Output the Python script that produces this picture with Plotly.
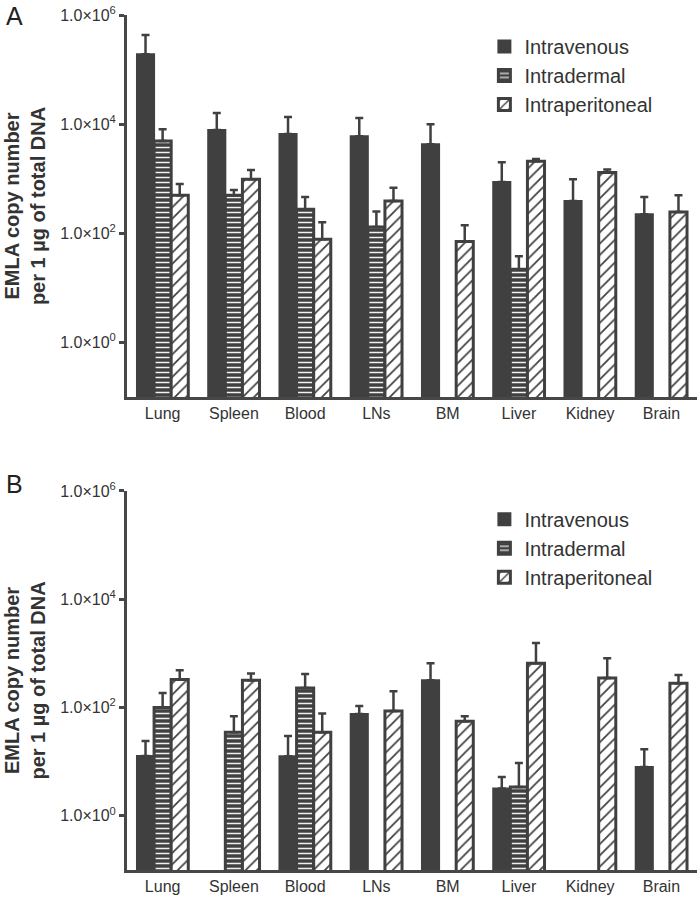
import plotly.graph_objects as go

categories = ["Lung", "Spleen", "Blood", "LNs", "BM", "Liver", "Kidney", "Brain"]
series_names = ["Intravenous", "Intradermal", "Intraperitoneal"]

# Panel A values (copy number per 1 µg DNA) and top of error bars
a_iv = [1.9e5, 7.8e3, 6.6e3, 6.0e3, 4.3e3, 870, 390, 224]
a_iv_err = [4.3e5, 1.6e4, 1.35e4, 1.3e4, 1.0e4, 2000, 980, 460]
a_id = [4.9e3, 500, 275, 130, None, 22, None, None]
a_id_err = [8100, 620, 460, 250, None, 38, None, None]
a_ip = [500, 980, 78, 390, 71, 2100, 1300, 245]
a_ip_err = [800, 1450, 160, 680, 140, 2300, 1480, 500]

# Panel B
b_iv = [12.7, None, 12.6, 76, 318, 3.2, None, 8]
b_iv_err = [24, None, 30, 107, 660, 5.2, None, 17]
b_id = [100, 35, 230, None, None, 3.4, None, None]
b_id_err = [186, 69, 417, None, None, 9.5, None, None]
b_ip = [330, 318, 35, 86, 56, 660, 350, 280]
b_ip_err = [490, 427, 78, 200, 69, 1550, 810, 400]

tick_vals = [1, 100, 1e4, 1e6]
tick_text = ["1.0×10<sup>0</sup>", "1.0×10<sup>2</sup>", "1.0×10<sup>4</sup>", "1.0×10<sup>6</sup>"]

DARK = "#404040"
AX = "#474747"
FONT = "Liberation Sans, Arial, sans-serif"


def plus(vals, tops):
    return [(t - v) if (v is not None and t is not None) else 0 for v, t in zip(vals, tops)]


def styles(i):
    if i == 0:
        return dict(color=DARK, line=dict(color=DARK, width=2))
    if i == 1:
        return dict(color=DARK, line=dict(color=DARK, width=3),
                    pattern=dict(shape="-", fgcolor="#f2f2f2", bgcolor=DARK,
                                 size=5, solidity=0.3, fillmode="replace"))
    return dict(color="white", line=dict(color=DARK, width=3),
                pattern=dict(shape="/", fgcolor=DARK, bgcolor="white",
                             size=8, solidity=0.22, fillmode="replace"))


fig = go.Figure()
panels = [
    ("x", "y", "legend", [(a_iv, a_iv_err), (a_id, a_id_err), (a_ip, a_ip_err)]),
    ("x2", "y2", "legend2", [(b_iv, b_iv_err), (b_id, b_id_err), (b_ip, b_ip_err)]),
]
for xa, ya, lg, data in panels:
    for i, (vals, tops) in enumerate(data):
        fig.add_trace(go.Bar(
            x=categories, y=vals, name=series_names[i],
            xaxis=xa, yaxis=ya, legend=lg,
            marker=styles(i),
            error_y=dict(type="data", symmetric=False, array=plus(vals, tops),
                         arrayminus=[0] * len(vals), color=DARK,
                         thickness=2.5, width=4),
        ))

yaxis_common = dict(
    type="log", range=[-1, 6], tickvals=tick_vals, ticktext=tick_text,
    showline=True, linewidth=3, linecolor=AX, ticks="outside", ticklen=5,
    tickwidth=3, tickcolor=AX, showgrid=False, zeroline=False,
    tickfont=dict(size=16, color="#333", family=FONT),
    title=dict(text="<b>EMLA copy number<br>per 1 µg of total DNA</b>",
               font=dict(size=20, color="#333", family=FONT), standoff=10),
)
xaxis_common = dict(
    showline=True, linewidth=3, linecolor=AX, ticks="", showgrid=False,
    zeroline=False, tickfont=dict(size=16, color="#333", family=FONT),
)

legend_common = dict(
    font=dict(size=20, color="#333", family=FONT),
    bgcolor="rgba(0,0,0,0)", xanchor="left", yanchor="top",
    itemclick=False, itemdoubleclick=False, tracegroupgap=0,
)

fig.update_layout(
    width=700, height=899,
    margin=dict(l=127, r=3, t=15, b=29),
    paper_bgcolor="white", plot_bgcolor="white",
    font=dict(family=FONT, color="#333"),
    barmode="group", bargap=0.28, bargroupgap=0,
    xaxis=dict(domain=[0, 1], anchor="y", **xaxis_common),
    yaxis=dict(domain=[0.5532, 1.0], anchor="x", **yaxis_common),
    xaxis2=dict(domain=[0, 1], anchor="y2", **xaxis_common),
    yaxis2=dict(domain=[0, 0.4433], anchor="x2", **yaxis_common),
    legend=dict(x=0.627, y=0.986, **legend_common),
    legend2=dict(x=0.627, y=0.433, **legend_common),
    annotations=[
        dict(text="A", xref="paper", yref="paper", x=-0.215, y=1.017,
             xanchor="left", yanchor="top", showarrow=False,
             font=dict(size=25, color="#222", family=FONT)),
        dict(text="B", xref="paper", yref="paper", x=-0.215, y=0.470,
             xanchor="left", yanchor="top", showarrow=False,
             font=dict(size=25, color="#222", family=FONT)),
    ],
)

fig.write_html("out.html", config={"displayModeBar": False},
               post_script="document.body.style.margin='0';")
